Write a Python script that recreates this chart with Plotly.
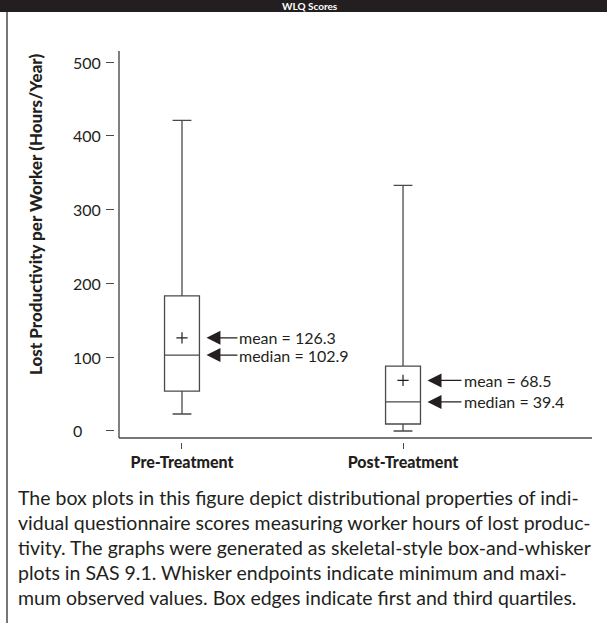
import plotly.graph_objects as go

# ---------------- data ----------------
categories = ["Pre-Treatment", "Post-Treatment"]
minimum = [23, 0]
q1 = [54, 9.5]
median = [102.9, 39.4]
q3 = [183, 88]
maximum = [421, 333]
mean = [126.3, 68.5]

y_ticks = [0, 100, 200, 300, 400, 500]
y_tick_labels = ["0", "100", "200", "300", "400", "500"]
y_range = [-9.5, 515]
x_range = [-0.285, 1.855]

header_text = "WLQ Scores"
y_title = "Lost Productivity per Worker (Hours/Year)"
caption_lines = [
    "The box plots in this figure depict distributional properties of indi-",
    "vidual questionnaire scores measuring worker hours of lost produc-",
    "tivity. The graphs were generated as skeletal-style box-and-whisker",
    "plots in SAS 9.1. Whisker endpoints indicate minimum and maxi-",
    "mum observed values. Box edges indicate first and third quartiles.",
]

# ---------------- layout geometry ----------------
W, H = 607, 626
ML, MR, MT, MB = 114, 15, 51, 184
PW = W - ML - MR
PH = H - MT - MB

def px_x(p):
    return (p - ML) / PW

def px_y(p):
    return (H - MB - p) / PH

FONT = "Lato"
TXT = "#231f20"
LINE = "#4a4a4a"

fig = go.Figure()

fig.add_trace(go.Box(
    x=categories, q1=q1, median=median, q3=q3,
    lowerfence=minimum, upperfence=maximum,
    width=0.158, whiskerwidth=0.54,
    line=dict(color=LINE, width=1.3),
    fillcolor="rgba(0,0,0,0)",
    boxpoints=False, showlegend=False, hoverinfo="skip",
))

fig.add_trace(go.Scatter(
    x=categories, y=mean, mode="markers",
    marker=dict(symbol="cross-thin", size=8, color=TXT,
                line=dict(width=1.2, color=TXT)),
    showlegend=False, hoverinfo="skip",
))

annotations = []
# mean / median callouts
for i, cat in enumerate(categories):
    for name, val in (("mean", mean[i]), ("median", median[i])):
        annotations.append(dict(
            x=cat, y=val, xref="x", yref="y", xshift=24.5,
            text=f"{name} = {val}", showarrow=True,
            ax=31 if i == 0 else 34, ay=0, axref="pixel", ayref="pixel",
            xanchor="left", yanchor="middle",
            arrowhead=2, arrowsize=2.15, arrowwidth=1.3, arrowcolor=TXT,
            font=dict(family=FONT, size=16, color=TXT),
        ))

# y tick labels (left aligned like the original)
for v, lab in zip(y_ticks, y_tick_labels):
    annotations.append(dict(
        x=px_x(71), y=v, xref="paper", yref="y", text=lab,
        showarrow=False, xanchor="left", yanchor="middle",
        font=dict(family=FONT, size=16, color=TXT),
    ))

# y axis title
annotations.append(dict(
    x=px_x(35), y=px_y(215), xref="paper", yref="paper", text=y_title,
    textangle=-90, showarrow=False, xanchor="center", yanchor="middle",
    font=dict(family=FONT, size=17, color=TXT, weight=900),
))

# header text inside the black bar
annotations.append(dict(
    x=px_x(310), y=px_y(6), xref="paper", yref="paper", text=header_text,
    showarrow=False, xanchor="center", yanchor="middle",
    font=dict(family=FONT, size=10, color="white", weight="bold"),
))

# caption
cap_y = [497, 522, 547, 572, 597]
for line, yy in zip(caption_lines, cap_y):
    annotations.append(dict(
        x=px_x(16), y=px_y(yy), xref="paper", yref="paper", text=line,
        showarrow=False, xanchor="left", yanchor="middle",
        font=dict(family=FONT, size=19.5, color=TXT),
    ))

shapes = [
    # header bar
    dict(type="rect", xref="paper", yref="paper",
         x0=px_x(0), x1=px_x(W), y0=px_y(12), y1=px_y(0),
         fillcolor="#231f20", line=dict(width=0), layer="below"),
    # left page rule
    dict(type="line", xref="paper", yref="paper",
         x0=px_x(7), x1=px_x(7), y0=px_y(12), y1=px_y(623),
         line=dict(color="#777777", width=2)),
    # y axis line
    dict(type="line", xref="x domain", yref="y domain",
         x0=0, x1=0, y0=0, y1=1, line=dict(color=LINE, width=1.4)),
    # x axis line
    dict(type="line", xref="x domain", yref="y domain",
         x0=0, x1=1, y0=0, y1=0, line=dict(color=LINE, width=1.4)),
]

fig.update_layout(
    width=W, height=H,
    margin=dict(l=ML, r=MR, t=MT, b=MB, pad=0),
    paper_bgcolor="white", plot_bgcolor="white",
    boxmode="overlay",
    showlegend=False,
    hovermode=False,
    xaxis=dict(
        type="category", range=x_range, domain=[5 / PW, 1],
        anchor="free", position=0,
        showgrid=False, zeroline=False, showline=False,
        ticks="outside", ticklen=6, tickwidth=1.2, tickcolor=LINE,
        tickfont=dict(family=FONT, size=16, color=TXT, weight=900),
    ),
    yaxis=dict(
        range=y_range, domain=[4 / PH, 1],
        anchor="free", position=0,
        showgrid=False, zeroline=False, showline=False,
        tickvals=y_ticks, showticklabels=False,
        ticks="outside", ticklen=8, tickwidth=1.2, tickcolor=LINE,
    ),
    annotations=annotations,
    shapes=shapes,
)

fig.write_html(
    "out.html",
    config={"displayModeBar": False},
    post_script="document.body.style.margin='0px';",
)
